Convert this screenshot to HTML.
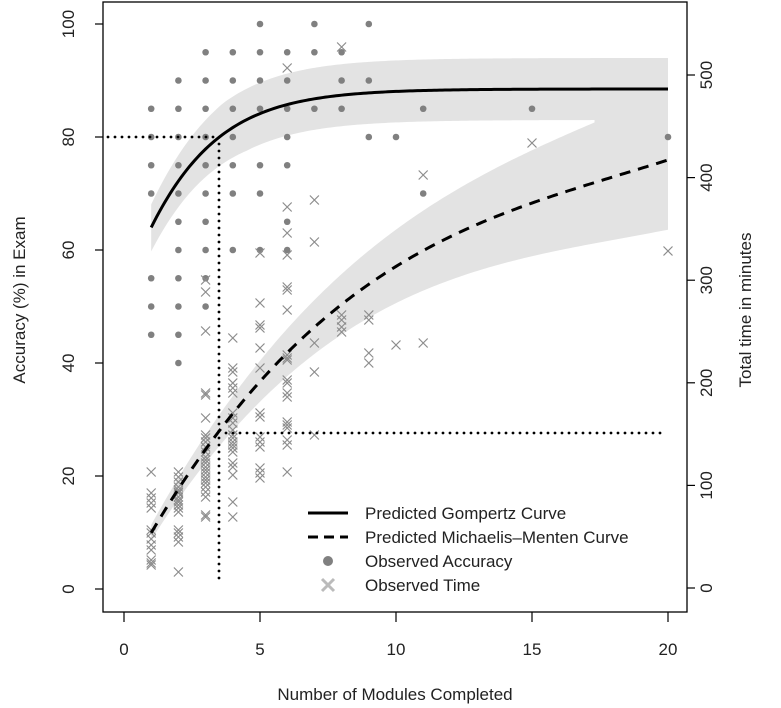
<!DOCTYPE html>
<html><head><meta charset="utf-8"><style>
body{margin:0;background:#fff}
svg{display:block;font-family:"Liberation Sans",sans-serif}
</style></head><body>
<svg id="s" width="781" height="708" viewBox="0 0 781 708" xmlns="http://www.w3.org/2000/svg">
<g id="bands"></g>
<g id="pts"></g>
<g id="lines"></g>
<rect x="103" y="2" width="584" height="610" fill="none" stroke="#000" stroke-width="1.3"/>
<g stroke="#000" stroke-width="1.2">
<line x1="124" y1="612" x2="124" y2="622"/><line x1="260" y1="612" x2="260" y2="622"/><line x1="396" y1="612" x2="396" y2="622"/><line x1="532" y1="612" x2="532" y2="622"/><line x1="668" y1="612" x2="668" y2="622"/>
<line x1="95" y1="589" x2="103" y2="589"/><line x1="95" y1="476" x2="103" y2="476"/><line x1="95" y1="363" x2="103" y2="363"/><line x1="95" y1="250" x2="103" y2="250"/><line x1="95" y1="137" x2="103" y2="137"/><line x1="95" y1="24" x2="103" y2="24"/>
<line x1="687" y1="588" x2="695" y2="588"/><line x1="687" y1="485.4" x2="695" y2="485.4"/><line x1="687" y1="382.8" x2="695" y2="382.8"/><line x1="687" y1="280.2" x2="695" y2="280.2"/><line x1="687" y1="177.6" x2="695" y2="177.6"/><line x1="687" y1="75" x2="695" y2="75"/>
</g>
<g font-size="17" fill="#222" text-anchor="middle">
<text x="124" y="655">0</text><text x="260" y="655">5</text><text x="396" y="655">10</text><text x="532" y="655">15</text><text x="668" y="655">20</text>
<text x="395" y="700">Number of Modules Completed</text>
<g transform="translate(74,0) rotate(-90)"><text x="-589">0</text><text x="-476">20</text><text x="-363">40</text><text x="-250">60</text><text x="-137">80</text><text x="-24">100</text></g>
<text transform="translate(25,300) rotate(-90)">Accuracy (%) in Exam</text>
<g transform="translate(712,0) rotate(-90)"><text x="-588">0</text><text x="-485.4">100</text><text x="-382.8">200</text><text x="-280.2">300</text><text x="-177.6">400</text><text x="-75">500</text></g>
<text transform="translate(751,310) rotate(-90)">Total time in minutes</text>
</g>
<g font-size="17" fill="#222">
<line x1="308" y1="513" x2="348" y2="513" stroke="#000" stroke-width="3"/>
<text x="365" y="519">Predicted Gompertz Curve</text>
<line x1="308" y1="537" x2="348" y2="537" stroke="#000" stroke-width="3" stroke-dasharray="10,6"/>
<text x="365" y="543">Predicted Michaelis–Menten Curve</text>
<circle cx="328" cy="561" r="5" fill="#808080"/>
<text x="365" y="567">Observed Accuracy</text>
<path d="M322 579L334 591M334 579L322 591" stroke="#bbb" stroke-width="3"/>
<text x="365" y="591">Observed Time</text>
</g>
</svg>
<script>
var NS="http://www.w3.org/2000/svg";
function px(x){return 124+x*27.2}
function py(a){return 589-a*5.65}
function el(p,t,a){var e=document.createElementNS(NS,t);for(var k in a)e.setAttribute(k,a[k]);document.getElementById(p).appendChild(e);return e}
function gom(x){return 88.5*Math.exp(-0.516*Math.exp(-0.465*x))}
function mmy(x){var u=20-x;return 160+8.6*u-0.196*u*u+0.0391*u*u*u+0.000092*u*u*u*u}
var up=[],lo=[];
for(var x=1;x<=20.001;x+=0.1){var y=py(gom(x));up.push(px(x)+","+(y-Math.min(31,20+x*3)));lo.push(px(x)+","+(y+Math.min(31,22+x*2)));}
el("bands","polygon",{points:up.concat(lo.reverse()).join(" "),fill:"#e3e3e3"});
var u2=[],l2=[];
for(var x=1;x<=17.301;x+=0.1){u2.push(px(x)+","+(mmy(x)-(8+3.2*(x-1))));}
u2.push(px(17.3)+",58");u2.push(px(20)+",58");
for(var x=1;x<=20.001;x+=0.1){l2.push(px(x)+","+(mmy(x)+7+3.3*(x-1)));}
el("bands","polygon",{points:u2.concat(l2.reverse()).join(" "),fill:"#e3e3e3"});
var D={1:[85,80,75,70,55,50,45],2:[90,85,80,75,70,65,60,55,50,45,40],3:[95,90,85,80,75,70,65,60,55,50],4:[95,90,85,80,75,70,60],5:[100,95,90,85,75,70,60],6:[95,90,85,80,75,65,60],7:[100,95,85],8:[95,90,85],9:[100,90,80],10:[80],11:[85,70],15:[85],20:[80]};
for(var k in D)D[k].forEach(function(a){el("pts","circle",{cx:px(+k),cy:py(a),r:3.3,fill:"#808080"})});
var C={1:[472,493,498,503,508,530,533,539,545,550,560,563,565],2:[472,477,482,487,490,492,493,497,500,502,505,508,512,530,533,537,542,572],3:[280,292,331,393,395,418,435,438,442,447,452,457,460,463,467,470,473,477,480,483,487,492,497,515,517],4:[338,368,372,383,388,393,413,418,423,430,435,438,442,445,448,452,463,467,475,502,517],5:[253,303,325,328,348,368,413,417,437,442,447,468,473,478],6:[68,207,233,255,287,290,310,355,358,360,380,383,393,397,422,425,428,440,445,472],7:[200,242,343,372,435],8:[47,315,320,327,332],9:[315,320,353,363],10:[345],11:[175,343],15:[143],20:[251]};
for(var k in C)C[k].forEach(function(y){var x=px(+k),s=4.5;el("pts","path",{d:"M"+(x-s)+" "+(y-s)+"L"+(x+s)+" "+(y+s)+"M"+(x+s)+" "+(y-s)+"L"+(x-s)+" "+(y+s),stroke:"#8c8c8c","stroke-width":1.2,fill:"none"})});
var g=[];for(var x=1;x<=20.001;x+=0.1)g.push(px(x)+","+py(gom(x)));
el("lines","polyline",{points:g.join(" "),fill:"none",stroke:"#000","stroke-width":3});
var m=[];for(var x=1;x<=20.001;x+=0.1)m.push(px(x)+","+mmy(x));
el("lines","polyline",{points:m.join(" "),fill:"none",stroke:"#000","stroke-width":3,"stroke-dasharray":"11,8"});
var dot={stroke:"#000","stroke-width":2.8,"stroke-dasharray":"0,7","stroke-linecap":"round"};
function dl(a){for(var k in dot)a[k]=dot[k];el("lines","line",a)}
dl({x1:108,y1:137,x2:219,y2:137});
dl({x1:219,y1:144,x2:219,y2:580});
dl({x1:226,y1:433,x2:665,y2:433});
</script>
</body></html>
